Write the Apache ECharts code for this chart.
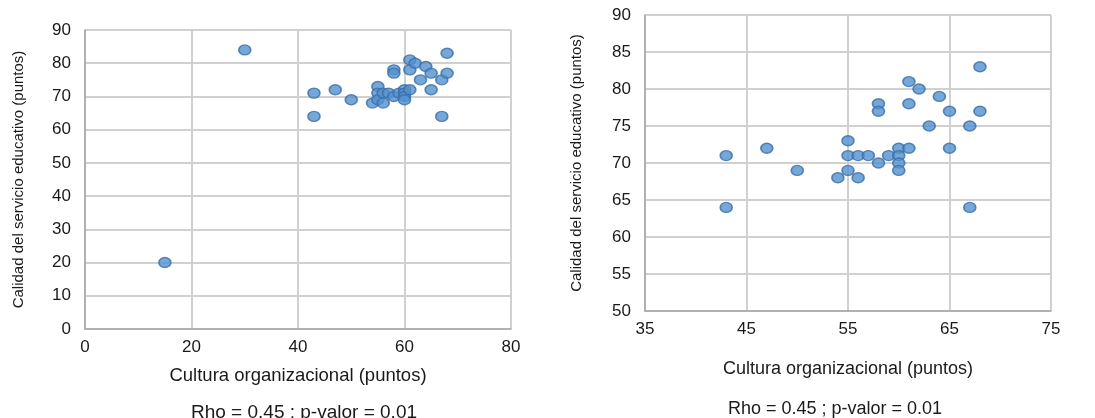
<!DOCTYPE html>
<html>
<head>
<meta charset="utf-8">
<script src="https://cdn.jsdelivr.net/npm/echarts@6/dist/echarts.min.js"></script>
<style>
  html, body { margin: 0; padding: 0; background: #fff; }
  #main { width: 1095px; height: 418px; }
</style>
</head>
<body>
<div id="main"></div>
<script>
// cultura organizacional (x) vs calidad del servicio educativo (y)
var cultura = [43, 43, 47, 50, 54, 55, 55, 55, 56, 56, 57, 58, 58, 58, 59, 60, 60, 60, 60, 61, 61, 61, 62, 63, 64, 65, 65, 67, 67, 68, 68]
var calidad = [71, 64, 72, 69, 68, 73, 71, 69, 71, 68, 71, 70, 78, 77, 71, 72, 71, 70, 69, 81, 78, 72, 80, 75, 79, 77, 72, 75, 64, 83, 77]
// two outliers only shown in the left panel
var outlier_x = [15, 30]
var outlier_y = [20, 84]

var left_ticks = { xMin: 0, xMax: 80, xStep: 20, yMin: 0, yMax: 90, yStep: 10 }
var right_ticks = { xMin: 35, xMax: 75, xStep: 10, yMin: 50, yMax: 90, yStep: 5 }

var stat_text = 'Rho = 0.45 ; p-valor = 0.01'
var x_name = 'Cultura organizacional (puntos)'
var y_name = 'Calidad del servicio educativo (puntos)'

function pairs(xs, ys) {
    var out = []
    for (var i = 0; i < xs.length; i++) {
        out.push([xs[i], ys[i]])
    }
    return out
}

var font = 'Arial, "Liberation Sans", sans-serif'
var txt = '#1a1a1a'

function xAxisOf(idx, t, gap, nameSize) {
    return {
        type: 'value', gridIndex: idx,
        min: t.xMin, max: t.xMax, interval: t.xStep,
        name: x_name, nameLocation: 'middle', nameGap: gap,
        nameTextStyle: { fontSize: nameSize, color: txt, fontFamily: font },
        axisLine: { show: true, lineStyle: { color: '#a6a6a6', width: 1.5 } },
        axisTick: { show: false },
        axisLabel: { fontSize: 17, color: txt, fontFamily: font, margin: 10 },
        splitLine: { show: true, lineStyle: { color: '#d0d0d0', width: 2 } },
    }
}

function yAxisOf(idx, t, gap) {
    return {
        type: 'value', gridIndex: idx,
        min: t.yMin, max: t.yMax, interval: t.yStep,
        name: y_name, nameLocation: 'middle', nameGap: gap,
        nameTextStyle: { fontSize: 15, color: txt, fontFamily: font },
        axisLine: { show: true, lineStyle: { color: '#a6a6a6', width: 1.5 } },
        axisTick: { show: false },
        axisLabel: { fontSize: 17, color: txt, fontFamily: font, margin: 14 },
        splitLine: { show: true, lineStyle: { color: '#d0d0d0', width: 2 } },
    }
}

var dot = {
    type: 'scatter',
    symbol: 'circle',
    symbolSize: [12, 10],
    itemStyle: { color: '#5491d0', borderColor: '#3a6ea6', borderWidth: 1.5 },
    silent: true,
}

var option = {
    animation: false,
    backgroundColor: '#fff',
    grid: [
        { left: 85, top: 30, width: 426, height: 299 },
        { left: 645, top: 15, width: 406, height: 296 },
    ],
    xAxis: [xAxisOf(0, left_ticks, 37, 18.5), xAxisOf(1, right_ticks, 49, 18)],
    yAxis: [yAxisOf(0, left_ticks, 59), yAxisOf(1, right_ticks, 61)],
    title: [
        { text: stat_text, left: 299, top: 398, textAlign: 'center',
          textStyle: { fontSize: 19, fontWeight: 'normal', color: txt, fontFamily: font } },
        { text: stat_text, left: 830, top: 395, textAlign: 'center',
          textStyle: { fontSize: 18, fontWeight: 'normal', color: txt, fontFamily: font } },
    ],
    series: [
        Object.assign({}, dot, { xAxisIndex: 0, yAxisIndex: 0, data: pairs(cultura.concat(outlier_x), calidad.concat(outlier_y)) }),
        Object.assign({}, dot, { xAxisIndex: 1, yAxisIndex: 1, data: pairs(cultura, calidad) }),
    ],
}

var myChart = echarts.init(document.getElementById('main'))
myChart.setOption(option, true)
</script>
</body>
</html>
